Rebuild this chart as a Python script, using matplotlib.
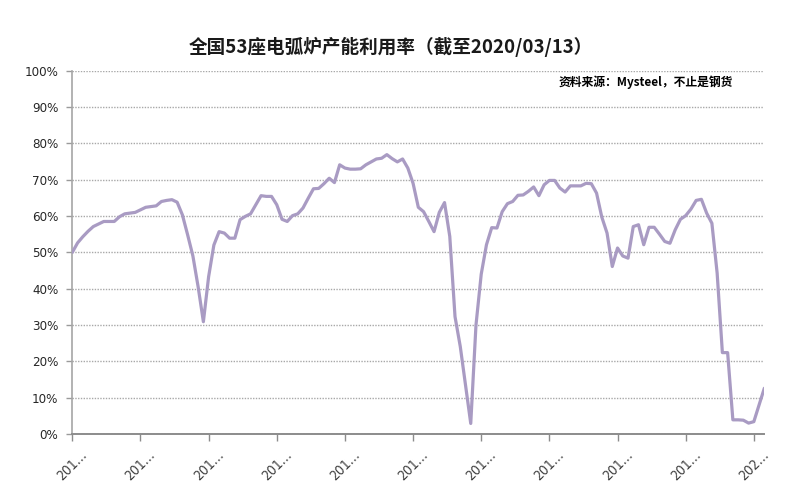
import matplotlib
matplotlib.use("Agg")
import matplotlib.pyplot as plt
from matplotlib.ticker import FuncFormatter, MultipleLocator
from matplotlib import font_manager

# ---------------- data (weekly) ----------------
title_text = "全国53座电弧炉产能利用率（截至2020/03/13）"
source_text = "资料来源：Mysteel，不止是钢货"

utilization = [
    50.0, 52.6, 54.3, 55.8, 57.1, 57.8, 58.5, 58.5, 58.5, 59.8,
    60.6, 60.8, 61.0, 61.7, 62.4, 62.6, 62.8, 64.0, 64.3, 64.5,
    63.8, 60.3, 54.8, 49.0, 40.5, 30.9, 43.3, 52.0, 55.7, 55.3,
    53.9, 53.9, 59.0, 59.9, 60.6, 63.1, 65.6, 65.4, 65.4, 63.1,
    59.1, 58.5, 60.1, 60.6, 62.2, 64.9, 67.5, 67.6, 68.9, 70.4,
    69.2, 74.1, 73.2, 72.9, 72.9, 73.0, 74.1, 74.9, 75.7, 75.9,
    76.9, 75.8, 74.9, 75.7, 73.2, 69.0, 62.4, 61.2, 58.5, 55.7,
    61.0, 63.7, 54.4, 32.3, 24.1, 13.5, 2.9, 30.0, 44.0, 52.1,
    56.8, 56.7, 61.2, 63.4, 64.0, 65.7, 65.8, 66.8, 68.0, 65.6,
    68.6, 69.8, 69.8, 67.7, 66.6, 68.3, 68.3, 68.3, 69.0, 68.9,
    66.3, 59.7, 55.3, 46.1, 51.2, 49.0, 48.4, 57.1, 57.6, 52.1,
    56.9, 56.9, 55.0, 53.0, 52.5, 56.2, 59.1, 60.1, 61.9, 64.3,
    64.6, 60.8, 58.0, 44.3, 22.4, 22.4, 3.9, 3.9, 3.8, 3.0,
    3.4, 8.0, 12.6,
]
weeks = list(range(len(utilization)))

tick_weeks = [0, 13, 26, 39, 52, 65, 78, 91, 104, 117, 130]
tick_labels = ["201…"] * 10 + ["202…"]

# ---------------- fonts ----------------
available = {f.name for f in font_manager.fontManager.ttflist}
if "Liberation Sans Narrow" in available:
    narrow, stretch = "Liberation Sans Narrow", "normal"
else:
    narrow, stretch = "DejaVu Sans", "condensed"
cjk = ["Noto Sans CJK SC", "DejaVu Sans"]
plt.rcParams["font.family"] = cjk

# ---------------- figure ----------------
fig = plt.figure(figsize=(8, 5), dpi=100)
ax = fig.add_axes([0.0904, 0.132, 0.865, 0.7266])

ax.plot(weeks, utilization, color="#a99bc3", lw=2.3, solid_joinstyle="round",
        solid_capstyle="round", zorder=3)

ax.set_xlim(0, len(utilization) - 1)
ax.set_ylim(0, 100)
ax.yaxis.set_major_locator(MultipleLocator(10))
ax.yaxis.set_major_formatter(FuncFormatter(lambda v, p: f"{int(round(v))}%"))

ax.set_xticks(tick_weeks)
ax.set_xticklabels(tick_labels, rotation=45, ha="center", va="top",
                   fontsize=10, family=narrow, fontstretch=stretch,
                   color="#404040")

for lbl in ax.get_yticklabels():
    lbl.set_family(narrow)
    lbl.set_fontstretch(stretch)
    lbl.set_fontsize(9.5)
    lbl.set_color("#262626")

ax.tick_params(axis="y", length=4, width=1, color="#9a9a9a", pad=6)
ax.tick_params(axis="x", length=5, width=1, color="#8c8c8c", pad=5)

ax.grid(axis="y", color="#a8a8a8", linestyle=(0, (1, 1)), lw=1.0, zorder=0)
ax.set_axisbelow(True)

for side in ("top", "right"):
    ax.spines[side].set_visible(False)
ax.spines["left"].set_color("#a6a6a6")
ax.spines["left"].set_linewidth(1.2)
ax.spines["bottom"].set_color("#8c8c8c")
ax.spines["bottom"].set_linewidth(1.4)

fig.text(0.489, 0.906, title_text, ha="center", va="center",
         fontsize=13.4, fontweight="bold", color="#1a1a1a", family=cjk)
fig.text(0.807, 0.836, source_text, ha="center", va="center",
         fontsize=8.5, fontweight="bold", color="#000000", family=cjk)

fig.savefig("out.png", dpi=100, facecolor="white")
